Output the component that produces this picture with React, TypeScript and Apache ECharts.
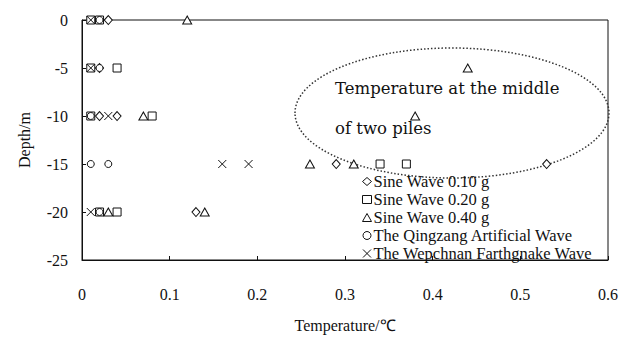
import React, { useEffect, useRef } from "react";
import * as echarts from "echarts";

const xTicks = [0, 0.1, 0.2, 0.3, 0.4, 0.5, 0.6];
const yTicks = [0, -5, -10, -15, -20, -25];

const seriesNames = [
  "Sine Wave 0.10 g",
  "Sine Wave 0.20 g",
  "Sine Wave 0.40 g",
  "The Qingzang Artificial Wave",
  "The Wepchnan Farthgnake Wave",
];

// [temperature, depth]
const sine010: number[][] = [
  [0.03, 0], [0.02, -5], [0.02, -10], [0.04, -10], [0.29, -15], [0.53, -15], [0.13, -20],
];
const sine020: number[][] = [
  [0.01, 0], [0.02, 0], [0.01, -5], [0.04, -5], [0.01, -10], [0.08, -10],
  [0.34, -15], [0.37, -15], [0.02, -20], [0.04, -20],
];
const sine040: number[][] = [
  [0.12, 0], [0.44, -5], [0.07, -10], [0.38, -10], [0.26, -15], [0.31, -15], [0.03, -20], [0.14, -20],
];
const qingzang: number[][] = [
  [0.02, 0], [0.02, -5], [0.01, -10], [0.01, -15], [0.03, -15], [0.02, -20],
];
const wenchuan: number[][] = [
  [0.01, 0], [0.01, -5], [0.03, -10], [0.16, -15], [0.19, -15], [0.01, -20],
];

const seriesData = [sine010, sine020, sine040, qingzang, wenchuan];
const symbols = [
  "diamond",
  "rect",
  "triangle",
  "circle",
  "path://M0,0L10,10M10,0L0,10",
];
const symbolSizes: any[] = [[8, 9], 8, [9, 8], 7, 8];

const annotationLines = ["Temperature at the middle", "of two piles"];

export default function App() {
  const ref = useRef<HTMLDivElement>(null);
  useEffect(() => {
    if (!ref.current) return;
    document.body.style.margin = "0";
    const chart = echarts.init(ref.current, null, { renderer: "svg" });
    const font = "Liberation Serif";
    chart.setOption({
      animation: false,
      backgroundColor: "#fff",
      textStyle: { fontFamily: font },
      grid: {
        left: 82,
        top: 20,
        right: 25,
        bottom: 74,
        show: true,
        borderColor: "#111",
        borderWidth: 1,
      },
      xAxis: {
        type: "value",
        min: xTicks[0],
        max: xTicks[xTicks.length - 1],
        interval: 0.1,
        name: "Temperature/℃",
        nameLocation: "middle",
        nameGap: 57,
        nameTextStyle: { fontFamily: font, fontSize: 16, color: "#111" },
        axisLine: { onZero: false, lineStyle: { color: "#111", width: 1 } },
        axisTick: { inside: true, length: 4, lineStyle: { color: "#111" } },
        axisLabel: {
          margin: 26,
          fontFamily: font,
          fontSize: 16,
          color: "#111",
          formatter: (v: number) => String(Math.round(v * 10) / 10),
        },
        splitLine: { show: false },
      },
      yAxis: {
        type: "value",
        min: yTicks[yTicks.length - 1],
        max: yTicks[0],
        interval: 5,
        name: "Depth/m",
        nameLocation: "middle",
        nameGap: 50,
        nameRotate: 90,
        nameTextStyle: { fontFamily: font, fontSize: 16, color: "#111" },
        axisLine: { onZero: false, lineStyle: { color: "#111", width: 1 } },
        axisTick: { show: true, inside: true, length: 4, lineStyle: { color: "#111" } },
        axisLabel: { margin: 14, fontFamily: font, fontSize: 16, color: "#111" },
        splitLine: { show: false },
      },
      legend: {
        orient: "vertical",
        left: 357,
        top: 168,
        itemGap: 1,
        itemWidth: 9,
        itemHeight: 8,
        data: seriesNames,
        itemStyle: { color: "#fff", borderColor: "#111", borderWidth: 1 },
        textStyle: { fontFamily: font, fontSize: 16.5, color: "#111", padding: [0, 0, 0, -3], lineHeight: 16 },
      },
      graphic: [
        {
          type: "ellipse",
          shape: { cx: 452, cy: 113, rx: 157, ry: 65 },
          style: { fill: "none", stroke: "#333", lineWidth: 1.5, lineDash: [1.5, 2] },
          z: 1,
        },
        {
          type: "text",
          x: 335,
          y: 88,
          style: {
            text: annotationLines[0],
            fontFamily: "DejaVu Serif",
            fontSize: 16.5,
            fill: "#111",
            verticalAlign: "middle",
          },
          z: 2,
        },
        {
          type: "text",
          x: 335,
          y: 128,
          style: {
            text: annotationLines[1],
            fontFamily: "DejaVu Serif",
            fontSize: 16.5,
            fill: "#111",
            verticalAlign: "middle",
          },
          z: 2,
        },
      ],
      series: seriesNames.map((name, i) => ({
        name,
        type: "scatter",
        data: seriesData[i],
        symbol: symbols[i],
        symbolSize: symbolSizes[i],
        itemStyle: {
          color: i === 4 ? "rgba(0,0,0,0)" : "#fff",
          borderColor: "#111",
          borderWidth: 1,
          opacity: 1,
        },
        z: 3,
      })),
    });
    return () => chart.dispose();
  }, []);
  return <div ref={ref} style={{ width: 633, height: 338 }} />;
}
